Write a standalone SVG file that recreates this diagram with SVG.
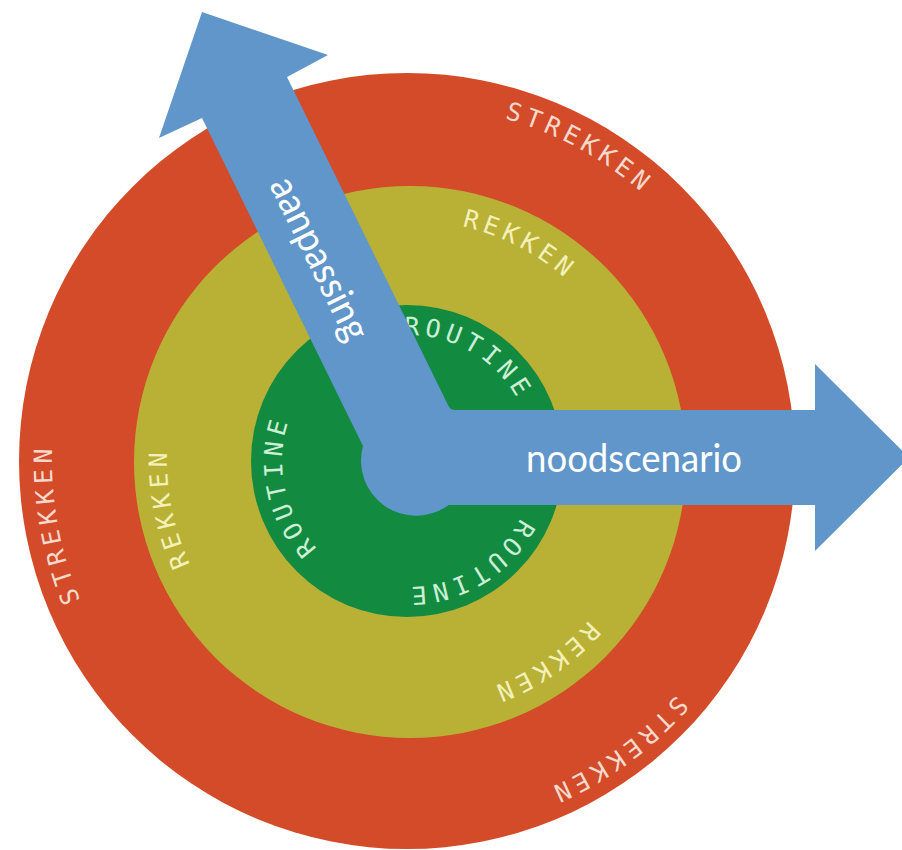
<svg xmlns="http://www.w3.org/2000/svg" xmlns:xlink="http://www.w3.org/1999/xlink" width="902" height="850" viewBox="0 0 902 850">
  <style>
    .ring-text { font-family: "DejaVu Sans Mono", "Liberation Mono", monospace; font-size: 25px; letter-spacing: 5px; text-anchor: middle; }
    .t-red { fill: #F6D9CC; }
    .t-yellow { fill: #F3F1B8; }
    .t-green { fill: #CDEFD6; }
    .arrow { fill: #6096C9; }
    .arrow-label { font-family: Lato, "Open Sans", "Liberation Sans", sans-serif; font-size: 39px; fill: #FFFFFF; }
  </style>
  <defs>
    <path id="arc-red" d="M 52,461 A 356 356 0 1 1 764,461 A 356 356 0 1 1 52,461 A 356 356 0 1 1 764,461 A 356 356 0 1 1 52,461"/>
    <path id="arc-yellow" d="M 167,461 A 241 241 0 1 1 649,461 A 241 241 0 1 1 167,461 A 241 241 0 1 1 649,461 A 241 241 0 1 1 167,461"/>
    <path id="arc-green" d="M 282,461 A 126 126 0 1 1 534,461 A 126 126 0 1 1 282,461 A 126 126 0 1 1 534,461 A 126 126 0 1 1 282,461"/>
  </defs>
  <rect width="902" height="850" fill="#FFFFFF"/>

  <g id="strekken">
    <circle cx="407" cy="461" r="388" fill="#D34B28"/>
    <text class="ring-text t-red"><textPath xlink:href="#arc-red" href="#arc-red" startOffset="737">STREKKEN</textPath></text>
    <text class="ring-text t-red"><textPath xlink:href="#arc-red" href="#arc-red" startOffset="1453">STREKKEN</textPath></text>
    <text class="ring-text t-red"><textPath xlink:href="#arc-red" href="#arc-red" startOffset="2173">STREKKEN</textPath></text>
  </g>

  <g id="rekken">
    <circle cx="410" cy="462" r="276" fill="#B9B036"/>
    <text class="ring-text t-yellow"><textPath xlink:href="#arc-yellow" href="#arc-yellow" startOffset="493">REKKEN</textPath></text>
    <text class="ring-text t-yellow"><textPath xlink:href="#arc-yellow" href="#arc-yellow" startOffset="991">REKKEN</textPath></text>
    <text class="ring-text t-yellow"><textPath xlink:href="#arc-yellow" href="#arc-yellow" startOffset="1467">REKKEN</textPath></text>
  </g>

  <g id="routine">
    <circle cx="407" cy="461" r="156" fill="#128B41"/>
    <text class="ring-text t-green"><textPath xlink:href="#arc-green" href="#arc-green" startOffset="264">ROUTINE</textPath></text>
    <text class="ring-text t-green"><textPath xlink:href="#arc-green" href="#arc-green" startOffset="525">ROUTINE</textPath></text>
    <text class="ring-text t-green"><textPath xlink:href="#arc-green" href="#arc-green" startOffset="765">ROUTINE</textPath></text>
  </g>

  <g id="connectors">
    <path class="arrow" d="M 202,12 L 328,55 L 287,77 L 448.5,406 Q 450.5,410 455,410 L 815,410 L 815,364 L 909,457.5 L 815,551 L 815,505 L 448.6,505 A 55 55 0 0 1 363,446 L 202,118 L 159,138 Z"/>
    <text class="arrow-label" transform="translate(322.4,257.2) rotate(63.8)" x="0" y="16" text-anchor="middle" textLength="177" lengthAdjust="spacingAndGlyphs">aanpassing</text>
    <text class="arrow-label" x="526" y="472" textLength="216" lengthAdjust="spacingAndGlyphs">noodscenario</text>
  </g>
</svg>
